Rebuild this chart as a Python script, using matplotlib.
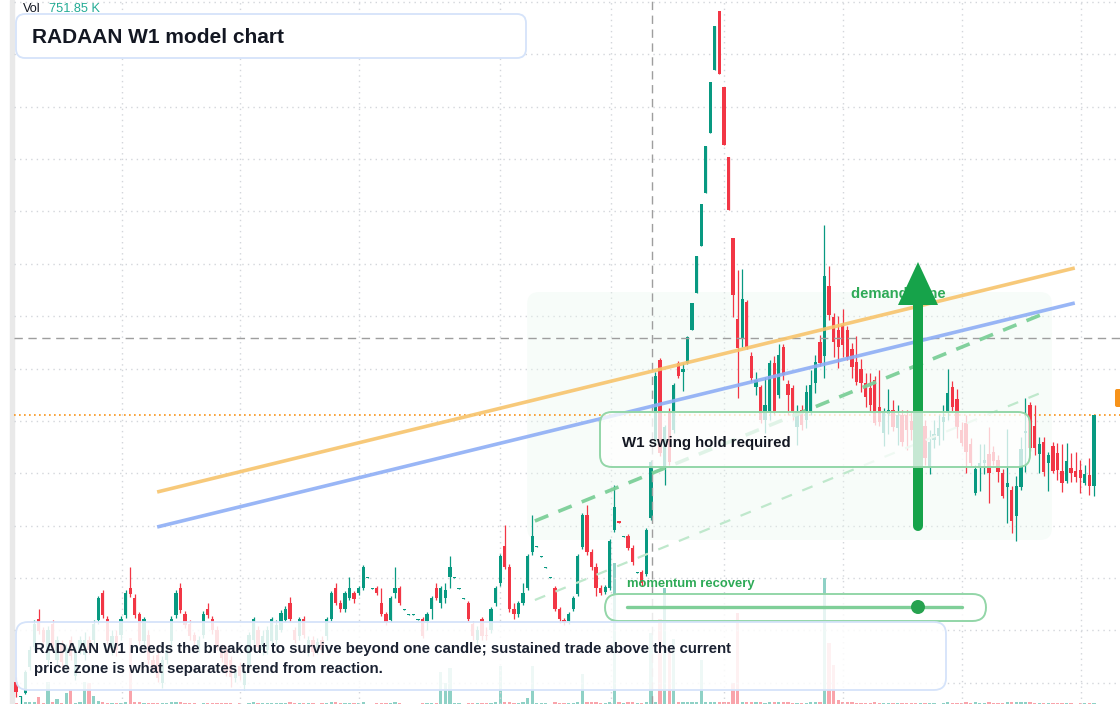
import numpy as np
import matplotlib.pyplot as plt
from matplotlib.patches import FancyBboxPatch, Rectangle, Polygon, Circle

plt.rcParams['font.family'] = ['Liberation Sans', 'DejaVu Sans']

# daily candles (price units), oldest first
opens = [11.8, 10.3, 10.7, 13.3, 15.3, 18.1, 17.0, 14.0, 17.6, 14.0,
         15.5, 13.5, 16.0, 12.4, 15.0, 14.5, 16.0, 16.0, 18.0, 20.7,
         18.1, 15.2, 16.4, 16.5, 18.5, 21.2, 20.2, 18.6, 15.9, 16.5,
         14.0, 14.5, 11.7, 14.0, 15.9, 18.5, 21.2, 18.6, 17.6, 16.5,
         15.2, 16.5, 19.1, 18.1, 17.0, 15.3, 15.0, 14.0, 12.2, 13.4,
         11.5, 13.5, 16.0, 17.0, 15.0, 15.0, 15.9, 16.0, 17.0, 18.0,
         19.7, 17.0, 16.4, 18.1, 14.8, 16.0, 15.0, 16.0, 16.4, 18.1,
         21.2, 19.7, 19.1, 20.2, 20.7, 20.7, 21.2, 22.2, 21.1, 21.2,
         19.7, 18.6, 18.0, 20.7, 21.2, 19.0, 18.5, 18.5, 18.0, 18.1,
         17.9, 19.1, 21.2, 19.7, 20.2, 22.3, 22.2, 21.1, 20.1, 19.7,
         17.6, 16.0, 18.1, 16.5, 17.0, 19.7, 21.7, 25.4, 23.3, 19.1,
         18.6, 19.7, 21.2, 24.8, 25.3, 24.3, 23.2, 22.2, 21.2, 19.1,
         18.0, 17.9, 19.1, 20.6, 25.3, 28.5, 24.8, 23.3, 21.2, 20.8,
         21.2, 27.0, 27.9, 26.3, 26.4, 25.2, 22.7, 22.8, 22.6, 28.2,
         36.0, 44.0, 33.3, 38.8, 37.0, 43.7, 42.8, 43.7, 47.0, 50.7,
         55.4, 60.7, 66.7, 73.0, 78.9, 71.3, 64.3, 56.2, 48.1, 46.1,
         49.8, 44.4, 41.3, 41.3, 38.0, 38.9, 43.7, 40.5, 45.3, 41.6,
         41.2, 37.3, 39.0, 38.0, 38.8, 41.7, 45.8, 44.4, 51.4, 48.3,
         47.0, 47.5, 47.0, 45.1, 43.8, 43.1, 41.7, 41.2, 42.0, 39.3,
         36.7, 38.6, 39.0, 37.2, 38.5, 38.5, 37.9, 37.0, 35.5, 37.4,
         33.2, 36.0, 36.4, 37.8, 38.7, 41.3, 40.1, 37.0, 37.7, 35.6,
         30.7, 33.3, 33.7, 34.6, 34.8, 34.0, 32.7, 31.3, 31.0, 28.4,
         31.3, 36.7, 39.5, 37.4, 34.6, 35.8, 33.7, 35.4, 34.7, 32.9,
         31.9, 33.2, 32.9, 33.0, 31.7, 32.5, 31.4]
highs = [12.3, 10.4, 13.0, 15.4, 18.0, 19.1, 17.3, 17.4, 18.0, 16.4,
         16.0, 15.6, 16.4, 15.4, 16.4, 16.8, 16.4, 18.0, 20.4, 21.0,
         18.4, 17.0, 17.0, 18.4, 21.0, 23.3, 20.6, 18.8, 18.3, 17.0,
         14.5, 15.0, 14.4, 15.5, 18.4, 21.0, 21.7, 18.9, 18.0, 16.8,
         16.4, 18.9, 19.7, 18.4, 17.4, 15.6, 15.4, 14.4, 13.5, 13.8,
         13.2, 16.8, 18.3, 17.4, 17.0, 17.4, 18.3, 18.0, 19.0, 19.4,
         20.3, 17.3, 18.3, 18.4, 16.4, 16.4, 16.2, 16.4, 18.3, 20.9,
         21.7, 20.0, 20.9, 22.3, 20.9, 21.4, 23.5, 22.3, 21.2, 21.4,
         21.2, 18.8, 20.4, 23.3, 21.4, 19.1, 18.6, 18.6, 18.1, 18.3,
         18.8, 20.4, 21.7, 21.4, 21.7, 24.4, 22.3, 21.2, 20.2, 19.9,
         17.9, 17.4, 18.3, 17.3, 19.3, 21.4, 24.6, 27.5, 23.6, 19.7,
         19.9, 21.7, 24.6, 28.5, 25.4, 24.4, 23.3, 22.3, 21.4, 19.3,
         18.2, 18.8, 20.4, 24.6, 28.7, 29.5, 25.1, 23.7, 21.5, 21.5,
         26.1, 31.5, 27.9, 26.4, 26.6, 25.5, 22.8, 23.0, 27.2, 34.0,
         42.8, 44.2, 37.5, 39.2, 41.7, 43.9, 43.7, 46.4, 49.7, 54.4,
         59.6, 65.4, 71.8, 77.4, 78.9, 71.3, 64.3, 56.2, 53.0, 53.1,
         50.0, 44.8, 42.8, 41.5, 42.3, 44.0, 44.4, 45.6, 45.6, 42.0,
         41.5, 39.5, 39.5, 41.5, 43.0, 44.5, 46.5, 57.5, 53.4, 48.7,
         48.4, 49.1, 47.4, 45.7, 46.4, 44.1, 42.7, 42.7, 42.4, 43.0,
         39.2, 41.1, 40.0, 39.5, 39.0, 39.0, 38.8, 38.0, 38.5, 38.0,
         37.0, 38.0, 38.5, 39.5, 43.1, 41.9, 41.1, 37.8, 38.5, 36.2,
         33.5, 35.6, 35.6, 37.3, 35.4, 34.5, 33.1, 37.1, 31.4, 32.4,
         36.3, 40.2, 39.8, 39.5, 36.3, 36.3, 34.8, 35.8, 35.7, 35.6,
         35.7, 34.7, 34.8, 34.0, 33.5, 34.2, 38.5]
lows = [10.3, 9.6, 10.6, 13.0, 15.0, 16.6, 15.4, 13.6, 15.0, 13.5,
        13.2, 13.0, 14.0, 12.0, 14.6, 14.0, 14.6, 15.6, 17.6, 18.2,
        15.6, 14.5, 14.4, 16.0, 18.2, 20.3, 18.2, 15.5, 15.5, 13.6,
        12.8, 11.8, 11.2, 13.6, 15.5, 18.2, 18.7, 17.2, 16.0, 15.5,
        14.8, 16.2, 18.2, 16.6, 15.0, 13.8, 12.4, 11.3, 11.8, 12.0,
        11.0, 13.2, 15.6, 15.0, 14.5, 14.6, 15.5, 15.6, 16.8, 17.8,
        17.8, 15.7, 16.0, 16.2, 14.4, 14.4, 14.6, 14.6, 16.0, 17.9,
        19.5, 18.8, 18.8, 20.0, 19.7, 20.5, 21.0, 22.2, 21.1, 20.5,
        18.4, 17.5, 17.8, 20.2, 19.5, 19.0, 18.5, 18.5, 18.0, 16.2,
        17.0, 18.1, 20.0, 19.2, 19.7, 21.2, 22.2, 21.1, 20.1, 17.9,
        16.0, 15.6, 16.0, 16.0, 16.7, 19.4, 21.4, 23.1, 18.8, 18.1,
        18.3, 19.5, 21.0, 24.5, 25.3, 24.3, 23.2, 22.2, 18.9, 17.7,
        17.5, 17.6, 18.9, 20.4, 25.1, 24.5, 23.0, 20.4, 20.5, 20.6,
        21.0, 26.8, 27.7, 26.3, 25.0, 23.5, 22.7, 21.4, 22.4, 28.0,
        35.5, 34.4, 31.5, 33.5, 36.7, 42.2, 40.9, 43.6, 47.0, 50.7,
        55.4, 60.7, 66.7, 73.0, 72.6, 65.5, 59.0, 48.3, 40.2, 45.3,
        45.1, 41.8, 40.5, 37.7, 36.7, 38.0, 38.6, 40.2, 42.0, 38.5,
        38.0, 35.5, 37.0, 37.2, 38.5, 40.7, 43.4, 42.2, 48.0, 44.3,
        43.2, 44.3, 44.0, 42.2, 41.5, 40.8, 39.3, 38.8, 37.5, 37.4,
        35.4, 36.6, 36.9, 35.5, 35.4, 35.0, 36.0, 35.2, 34.5, 33.5,
        32.6, 35.2, 35.5, 36.0, 38.0, 38.8, 36.2, 35.4, 32.7, 33.4,
        30.5, 30.9, 32.6, 29.7, 33.5, 31.8, 30.2, 27.7, 26.7, 25.9,
        31.0, 32.8, 34.9, 34.5, 32.7, 32.4, 30.9, 32.7, 32.0, 30.8,
        31.7, 31.8, 31.8, 30.7, 31.5, 30.5, 30.4]
closes = [10.8, 10.4, 12.8, 15.0, 17.6, 16.9, 15.8, 17.0, 15.3, 16.0,
          13.8, 15.2, 14.4, 15.0, 16.0, 16.0, 15.0, 17.6, 20.2, 18.5,
          15.9, 16.4, 15.0, 18.1, 20.7, 20.6, 18.5, 15.9, 18.1, 14.0,
          13.2, 12.2, 14.0, 15.0, 18.1, 20.7, 19.0, 17.5, 16.4, 15.9,
          16.0, 18.6, 18.5, 17.0, 15.3, 14.2, 12.7, 12.3, 12.9, 12.4,
          12.8, 16.5, 18.1, 15.3, 16.4, 17.0, 18.1, 17.5, 18.7, 19.1,
          18.1, 16.0, 18.1, 16.5, 16.0, 14.8, 15.8, 15.0, 18.1, 20.7,
          19.7, 19.1, 20.7, 21.2, 20.1, 21.2, 23.3, 22.3, 21.2, 20.7,
          18.6, 17.8, 20.2, 21.2, 19.7, 19.1, 18.6, 18.6, 18.1, 16.4,
          18.6, 20.2, 20.2, 21.2, 21.0, 23.3, 22.3, 21.2, 20.2, 18.1,
          16.4, 17.0, 16.4, 16.4, 19.1, 21.2, 24.4, 23.3, 19.1, 18.6,
          19.7, 20.7, 24.4, 26.4, 25.4, 24.4, 23.3, 22.3, 19.1, 18.1,
          17.8, 18.6, 20.2, 24.4, 28.5, 24.8, 23.3, 21.2, 20.7, 21.3,
          25.9, 29.3, 27.7, 26.4, 25.2, 23.8, 22.8, 21.7, 27.0, 33.8,
          42.4, 34.7, 37.3, 33.8, 41.5, 42.4, 43.1, 46.3, 49.7, 54.4,
          59.6, 65.4, 71.8, 77.4, 72.6, 65.5, 59.0, 50.5, 45.2, 50.1,
          45.3, 42.2, 42.0, 38.0, 39.5, 43.7, 38.9, 44.5, 42.5, 40.5,
          38.8, 38.9, 37.5, 40.8, 41.5, 43.8, 43.7, 52.4, 48.5, 45.8,
          45.3, 45.5, 44.3, 43.3, 41.8, 41.7, 40.3, 39.5, 37.7, 37.8,
          38.9, 39.0, 37.3, 38.5, 35.8, 37.0, 37.0, 35.9, 37.5, 34.2,
          35.8, 36.6, 37.2, 38.3, 40.7, 39.3, 37.3, 35.7, 34.8, 33.7,
          33.1, 33.7, 34.0, 32.7, 33.9, 32.8, 30.4, 31.7, 27.9, 31.4,
          35.1, 36.9, 35.2, 35.2, 35.6, 32.8, 34.5, 32.9, 33.0, 31.7,
          33.9, 32.7, 32.3, 32.2, 32.6, 31.4, 38.5]
# volume in thousands
volumes = [600, 300, 1200, 1500, 1400, 5100, 900, 15200, 1100, 3300,
           700, 7900, 9800, 800, 1200, 15200, 14500, 5800, 2100, 1300,
           900, 400, 600, 800, 1600, 46000, 1500, 1100, 700, 600,
           500, 400, 700, 600, 1200, 1400, 1300, 900, 500, 400,
           300, 800, 1000, 600, 500, 400, 600, 500, 300, 400,
           300, 900, 1100, 500, 400, 600, 700, 500, 800, 900,
           1200, 500, 600, 700, 400, 500, 300, 400, 600, 1400,
           1400, 600, 800, 900, 500, 400, 1500, 300, 200, 400,
           900, 600, 800, 1100, 700, 300, 200, 200, 300, 800,
           500, 700, 900, 22600, 15000, 25000, 600, 400, 300, 700,
           800, 500, 700, 400, 900, 1300, 26600, 1400, 1400, 900,
           600, 1200, 4200, 26600, 800, 500, 400, 300, 1500, 900,
           500, 400, 700, 1400, 21000, 1500, 1400, 1100, 600, 500,
           1500, 98700, 1400, 900, 1300, 1100, 600, 800, 1400, 49700,
           1500, 59500, 81200, 37800, 45500, 1400, 1300, 1500, 1200, 1200,
           30800, 1300, 1200, 1300, 1500, 1400, 1500, 14700, 63700, 1500,
           1400, 1300, 1200, 1400, 1000, 1300, 1200, 1100, 1300, 1100,
           900, 800, 700, 1000, 1300, 1400, 1300, 88200, 42700, 27300,
           2800, 1400, 1200, 1100, 900, 800, 700, 900, 1200, 800,
           600, 500, 700, 400, 800, 500, 400, 600, 700, 900,
           1000, 400, 300, 500, 1400, 1000, 900, 600, 1200, 700,
           1100, 600, 400, 1300, 500, 600, 900, 1500, 1200, 1400,
           1400, 1300, 1400, 900, 700, 800, 600, 700, 600, 500,
           600, 400, 300, 500, 400, 500, 751.85]

# chart drawings (bar index, price)
resistance_line = [(30.9, 30.8), (231.8, 53.2)]
support_line = [(30.9, 27.3), (231.8, 49.7)]
channel_top = [(113.6, 27.9), (225.9, 48.8)]
channel_bottom = [(113.6, 20.0), (225.9, 41.0)]
demand_zone = (111.9, 26.0, 226.8, 50.8)
crosshair = (139.2, 46.2)
last_price = closes[-1]
month_ticks = [23.2, 49.0, 75.1, 106.0, 130.3, 155.0, 181.0, 207.1, 233.1]

title = "RADAAN W1 model chart"
note_lines = ["RADAAN W1 needs the breakout to survive beyond one candle; sustained trade above the current",
              "price zone is what separates trend from reaction."]

UP = '#089981'
DOWN = '#f23645'

o = np.array(opens); c = np.array(closes)
h = np.array(highs); l = np.array(lows)
v = np.array(volumes)
x = np.arange(len(o))
up = c >= o
cols = np.where(up, UP, DOWN)

fig = plt.figure(figsize=(11.2, 7.04), dpi=100, facecolor='white')
fig.patches.append(Rectangle((10 / 1120, 0), 3.5 / 1120, 1, transform=fig.transFigure,
                             color='#e9e9e9', zorder=0))

ax = fig.add_axes([14 / 1120, 0, 1106 / 1120, 1])
vax = ax.twinx()
vax.set_zorder(0)
ax.set_zorder(1)
ax.patch.set_visible(False)
vax.patch.set_facecolor('white')

# volume underneath
vax.bar(x, v, width=0.72, color=cols, alpha=0.45, linewidth=0)
vax.set_ylim(0, 704 * 700)

ax.set_xlim(-0.44, 241.7)
ax.set_ylim(9.6, 80.0)
ax.set_yticks(np.arange(11.72, 80.5, 5.237))
ax.set_xticks(month_ticks)
ax.grid(True, color='#d3d6db', linestyle=(0, (1, 3)), linewidth=1)
ax.set_axisbelow(True)
for a in (ax, vax):
    for s in a.spines.values():
        s.set_visible(False)
    a.tick_params(left=False, right=False, bottom=False, top=False,
                  labelleft=False, labelright=False, labelbottom=False)

# demand zone
zx0, zy0, zx1, zy1 = demand_zone
ax.add_patch(FancyBboxPatch((zx0, zy0), zx1 - zx0, zy1 - zy0,
                            boxstyle='round,pad=0,rounding_size=2.6', mutation_aspect=0.4568,
                            facecolor='#eaf8ef', alpha=0.35, edgecolor='none', zorder=0.6))

# candles
ax.vlines(x, l, h, colors=cols, linewidth=0.9, zorder=2)
body = np.maximum(np.abs(c - o), 0.1)
ax.bar(x, body, bottom=np.minimum(o, c), width=0.72, color=cols, linewidth=0, zorder=2.1)

# price line and crosshair
ax.axhline(last_price, color='#f7931a', linestyle=(0, (1, 2)), linewidth=1.2, zorder=1.5)
ax.axvline(crosshair[0], color='#9e9e9e', linestyle=(0, (6, 4)), linewidth=1, zorder=3)
ax.axhline(crosshair[1], color='#9e9e9e', linestyle=(0, (6, 4)), linewidth=1, zorder=3)

# trend drawings
ax.plot(*zip(*resistance_line), color='#f7c46c', linewidth=2.6, alpha=0.9, solid_capstyle='butt', zorder=4)
ax.plot(*zip(*support_line), color='#8eaef5', linewidth=2.6, alpha=0.9, solid_capstyle='butt', zorder=4)
ax.plot(*zip(*channel_top), color='#7ccf98', linewidth=2.6, linestyle=(0, (4, 3)), alpha=0.95, zorder=4)
ax.plot(*zip(*channel_bottom), color='#bfe8cc', linewidth=1.6, linestyle=(0, (5, 5)), zorder=4)

# annotation layer in pixel coordinates
ov = fig.add_axes([0, 0, 1, 1])
ov.set_xlim(0, 1120)
ov.set_ylim(704, 0)
ov.axis('off')
ov.patch.set_alpha(0)
ov.set_zorder(5)

ov.text(23, 9.5, 'Vol', fontsize=9.2, color='#131722', va='center', ha='left')
ov.text(49, 9.5, '751.85 K', fontsize=9.2, color='#22ab94', va='center', ha='left')

ov.add_patch(FancyBboxPatch((16, 14), 510, 44, boxstyle='round,pad=0,rounding_size=9',
                            facecolor='white', edgecolor='#d5e3fa', linewidth=1.3, zorder=2))
ov.text(32, 37.5, title, fontsize=15, fontweight='bold', color='#131722',
        va='center', ha='left', zorder=3)

ov.text(851, 294.5, 'demand zone', fontsize=10.6, fontweight='bold', color='#2eaa57',
        va='center', ha='left', zorder=1)
# arrow
ov.plot([918, 918], [526, 300], color='#16a34a', linewidth=7.2, solid_capstyle='round', zorder=2)
ov.add_patch(Polygon([(898, 305), (938, 305), (918, 262)], closed=True,
                     facecolor='#16a34a', edgecolor='none', zorder=2))

ov.add_patch(FancyBboxPatch((600, 412), 430, 55, boxstyle='round,pad=0,rounding_size=12',
                            facecolor=(1, 1, 1, 0.76), edgecolor='#93d6a8', linewidth=1.4, zorder=4))
ov.text(622, 443, 'W1 swing hold required', fontsize=10.8, fontweight='bold', color='#131722',
        va='center', ha='left', zorder=5)

ov.text(627, 583.5, 'momentum recovery', fontsize=9.4, fontweight='bold', color='#2eaa57',
        va='center', ha='left', zorder=5)
ov.add_patch(FancyBboxPatch((605, 594), 381, 27, boxstyle='round,pad=0,rounding_size=13.5',
                            facecolor=(1, 1, 1, 0.78), edgecolor='#93d6a8', linewidth=1.4, zorder=4))
ov.plot([627, 962], [607, 607], color='#7fcf98', linewidth=2.4, solid_capstyle='round', zorder=5)
ov.add_patch(Circle((918, 607), 7, facecolor='#27a24f', edgecolor='none', zorder=6))

ov.add_patch(FancyBboxPatch((16, 622), 930, 68, boxstyle='round,pad=0,rounding_size=12',
                            facecolor=(1, 1, 1, 0.86), edgecolor='#d5e3fa', linewidth=1.3, zorder=4))
ov.text(34, 649, note_lines[0], fontsize=10.8, fontweight='bold', color='#1c2333',
        va='center', ha='left', zorder=5)
ov.text(34, 669, note_lines[1], fontsize=10.8, fontweight='bold', color='#1c2333',
        va='center', ha='left', zorder=5)

# last price tag at the right edge
ov.add_patch(FancyBboxPatch((1115, 389), 14, 18, boxstyle='round,pad=0,rounding_size=2',
                            facecolor='#f7931a', edgecolor='none', zorder=5))

fig.savefig('out.png', dpi=100, facecolor='white')
